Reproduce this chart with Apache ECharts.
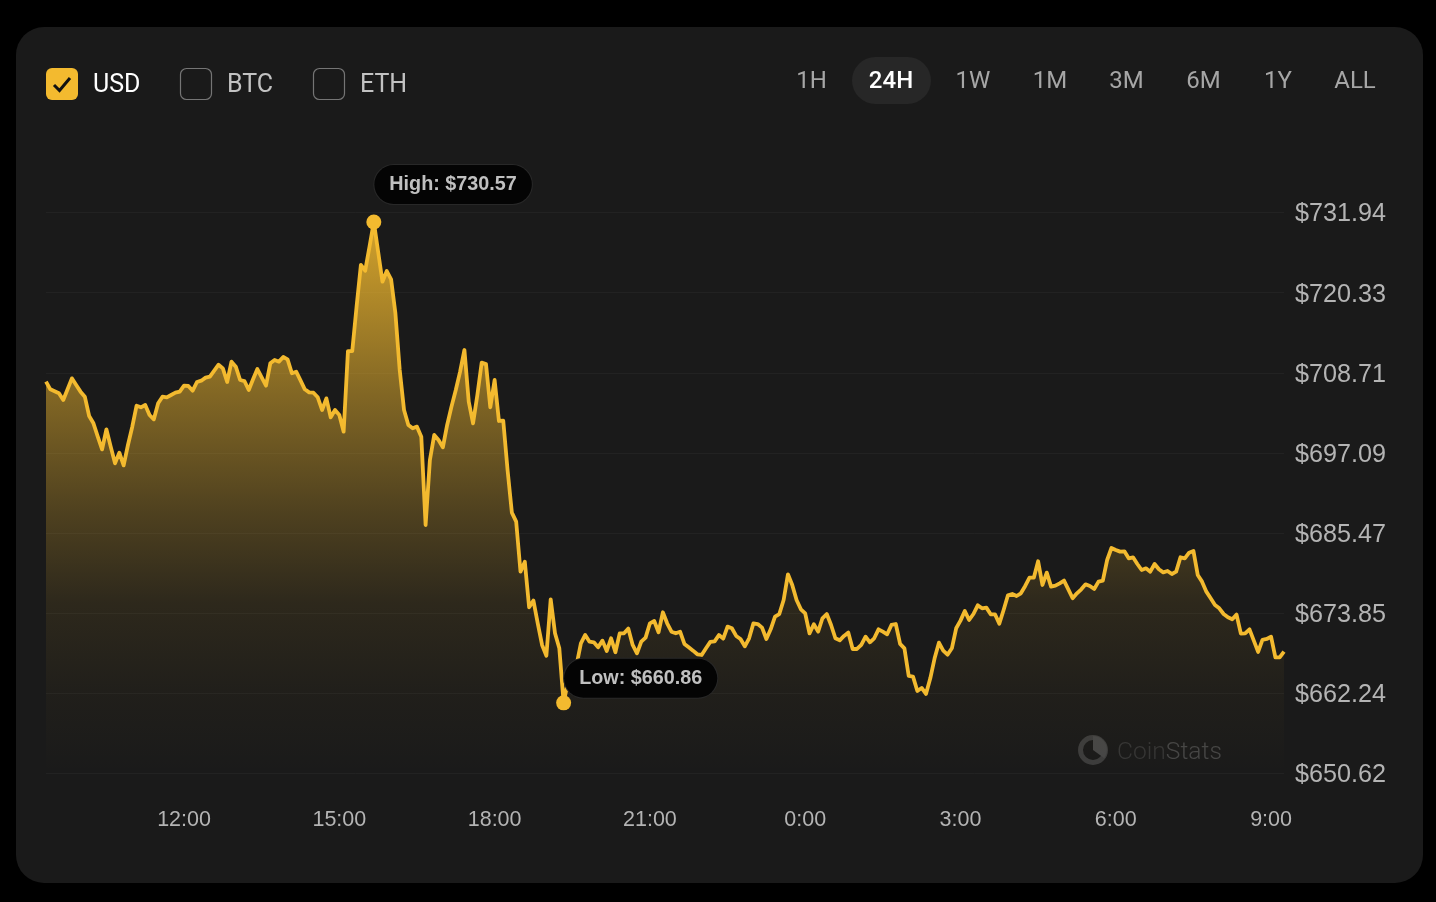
<!DOCTYPE html>
<html>
<head>
<meta charset="utf-8">
<style>html,body{margin:0;padding:0;background:#000;}#c{width:1436px;height:902px;}</style>
<script src="https://cdn.jsdelivr.net/npm/echarts@6/dist/echarts.min.js"></script>
</head>
<body>
<div id="c"></div>
<script>
const prices = [
707.42,706.31,706.02,705.73,704.76,706.31,707.90,706.93,705.97,705.24,702.44,701.38,699.45,697.61,700.51,698.00,695.58,697.13,695.29,698.24,
700.89,703.94,703.70,704.04,702.59,701.96,704.28,705.24,705.15,705.49,705.82,705.97,706.84,706.79,706.11,707.37,707.56,708.00,708.14,709.01,
709.88,709.35,707.37,710.32,709.59,707.66,707.51,706.21,707.76,709.25,708.05,706.84,710.08,710.56,710.32,710.99,710.65,708.63,708.87,707.61,
706.31,705.87,705.82,705.15,703.31,705.00,702.25,703.31,702.59,700.17,711.86,711.86,718.29,724.33,723.51,726.99,730.57,726.26,721.91,723.46,
722.25,717.32,709.11,703.31,701.14,700.66,700.90,699.45,686.64,696.07,699.69,698.97,697.90,701.14,703.80,706.21,708.87,712.01,704.52,701.38,
705.49,710.17,709.98,703.70,707.66,701.72,701.77,694.62,688.43,687.13,679.88,681.33,674.71,675.68,672.39,669.25,667.70,675.87,670.94,668.77,
660.86,663.94,665.14,666.35,669.49,670.70,669.73,669.64,668.91,669.88,668.38,670.22,668.19,670.94,670.94,671.62,669.25,668.04,669.73,670.31,
672.39,672.73,671.09,673.99,672.39,671.18,670.94,671.18,669.40,668.91,668.43,667.90,667.80,668.77,669.69,669.78,670.70,670.17,671.91,671.67,
670.56,670.12,669.06,670.22,672.39,672.29,671.76,670.12,671.52,673.36,673.74,675.77,679.49,677.95,675.77,674.42,673.84,670.94,672.25,671.18,
673.12,673.74,672.15,670.22,669.93,670.56,671.04,668.67,668.67,669.25,670.46,669.64,670.22,671.52,671.18,670.80,672.15,672.29,669.40,668.77,
664.76,664.66,662.58,663.02,662.15,664.42,667.32,669.59,668.43,667.85,668.77,671.67,672.78,674.18,672.87,673.74,675.00,674.57,674.66,673.70,
673.70,672.34,674.32,676.45,676.64,676.35,676.74,677.80,679.01,679.01,681.38,677.95,679.74,677.71,677.85,678.19,678.58,677.32,676.02,676.74,
677.32,678.04,677.80,677.37,678.43,678.58,681.57,683.31,683.02,682.78,682.83,681.81,681.96,680.99,680.12,680.36,679.88,680.99,680.22,679.78,
679.98,679.54,679.88,681.96,681.81,682.63,682.88,679.40,678.43,676.98,676.02,675.05,674.57,673.74,673.26,672.97,673.65,670.89,670.94,671.52,
669.88,668.24,669.98,670.12,670.46,667.46,667.46,668.28
];
const firstSampleHour = 9, firstSampleMinute = 20, sampleStepMinutes = 5;
const xTickLabels = ['12:00','15:00','18:00','21:00','0:00','3:00','6:00','9:00'];
const yTickValues = [731.94,720.33,708.71,697.09,685.47,673.85,662.24,650.62];
const currencies = ['USD','BTC','ETH'];
const ranges = ['1H','24H','1W','1M','3M','6M','1Y','ALL'];
const activeRange = '24H';

const times = prices.map((_, i) => {
  const total = firstSampleHour * 60 + firstSampleMinute + i * sampleStepMinutes;
  const h = Math.floor(total / 60) % 24, m = total % 60;
  return h + ':' + String(m).padStart(2, '0');
});
const hi = Math.max(...prices), lo = Math.min(...prices);
const hiIdx = prices.indexOf(hi), loIdx = prices.indexOf(lo);

const GOLD = '#f3ba2f';
const UI = 'Roboto, sans-serif', CH = '"Liberation Sans", Arial, sans-serif';
const graphics = [
  {type:'rect', z:-10, shape:{x:16,y:27,width:1407,height:856,r:28}, style:{fill:'#1a1a1a'}}
];
const boxX = [46,180,313], labX = [93,227,360];
currencies.forEach((c,i)=>{
  graphics.push({type:'rect', shape:{x:boxX[i]+(i?0.5:0),y:68+(i?0.5:0),width:i?31:32,height:i?31:32,r:6},
    style:i===0?{fill:GOLD}:{fill:'none',stroke:'#757575',lineWidth:1.2}});
  graphics.push({type:'text', style:{x:labX[i],y:85.5,text:c,font:'400 25px '+UI,fill:i===0?'#ffffff':'#c2c2c2',textVerticalAlign:'middle',textAlign:'left'}});
});
graphics.push({type:'polyline', shape:{points:[[54,85],[59.5,90.5],[70,78]]}, style:{stroke:'#111',lineWidth:3,fill:'none'}});
const rangeX = [811.5,891,973,1050,1126.5,1203.5,1278,1355];
graphics.push({type:'rect', shape:{x:852,y:57,width:79,height:47,r:23.5}, style:{fill:'#272727'}});
ranges.forEach((r,i)=>{
  graphics.push({type:'text', style:{x:rangeX[i],y:81.5,text:r,font:(r===activeRange?'500':'400')+' 24px '+UI,
    fill:r===activeRange?'#ffffff':'#a6a6a6',textAlign:'center',textVerticalAlign:'middle'}});
});
// CoinStats watermark
graphics.push({type:'ring', shape:{cx:1093,cy:750,r:15,r0:10}, style:{fill:'#3c3c3c'}});
graphics.push({type:'sector', shape:{cx:1093,cy:750,r:14,r0:0,startAngle:-Math.PI/2,endAngle:Math.PI*0.2}, style:{fill:'#464646'}});
graphics.push({type:'text', style:{x:1117,y:753,text:'{a|Coin}{b|Stats}',font:'300 24.6px '+UI,textAlign:'left',textVerticalAlign:'middle',
  rich:{a:{font:'300 24.6px '+UI,fill:'#353535'},b:{font:'300 24.6px '+UI,fill:'#454545'}}}});

const pill = (txt, off) => ({
  show:true, position:'right', distance:0, offset:off, formatter:txt,
  backgroundColor:'#040404', borderRadius:20, borderColor:'#282828', borderWidth:1,
  padding:[12,15,7,15], color:'#c0c0c0', fontFamily:CH, fontWeight:'bold', fontSize:19.8
});

const chart = echarts.init(document.getElementById('c'), null, {renderer:'canvas'});
chart.setOption({
  animation:false,
  backgroundColor:'#000',
  graphic:graphics,
  grid:{left:46,right:152,top:212.5,bottom:128.5},
  xAxis:{type:'category',data:times,boundaryGap:false,
    axisLine:{show:false},axisTick:{show:false},splitLine:{show:false},
    axisLabel:{color:'#b4b4b4',fontFamily:CH,fontSize:21.5,margin:47,verticalAlign:'middle',hideOverlap:false,
      interval:(i,v)=>xTickLabels.includes(v)}},
  yAxis:{type:'value',position:'right',min:650.62,max:731.94,
    axisLine:{show:false},
    axisTick:{show:false,customValues:yTickValues},
    splitLine:{show:true,lineStyle:{color:'#222222',width:1}},
    axisLabel:{margin:11,verticalAlign:'middle',customValues:yTickValues,
      formatter:v=>'{p|$'+v.toFixed(2)+'}',
      rich:{p:{color:'#b4b4b4',fontFamily:CH,fontSize:25.2,padding:[4,0,0,0]}}}},
  series:[{
    type:'line',data:prices,showSymbol:false,smooth:false,
    lineStyle:{color:GOLD,width:3.8,join:'round'},
    areaStyle:{opacity:1,color:{type:'linear',x:0,y:0,x2:0,y2:1,colorStops:[
      {offset:0,color:'rgba(243,186,47,0.85)'},
      {offset:0.32,color:'rgba(243,186,47,0.47)'},
      {offset:0.53,color:'rgba(243,186,47,0.24)'},
      {offset:0.69,color:'rgba(243,186,47,0.09)'},
      {offset:0.85,color:'rgba(243,186,47,0.03)'},
      {offset:1,color:'rgba(243,186,47,0)'}]}},
    markPoint:{symbol:'circle',symbolSize:15,silent:true,itemStyle:{color:GOLD},animation:false,
      data:[
        {coord:[hiIdx,hi],label:pill('High: $'+hi.toFixed(2),[-7,-37.5])},
        {coord:[loIdx,lo],label:pill('Low: $'+lo.toFixed(2),[-7,-24.5])}
      ]}
  }]
});
</script>
</body>
</html>
